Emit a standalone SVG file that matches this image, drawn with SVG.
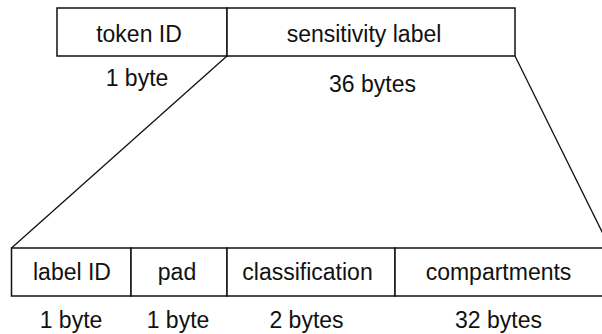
<svg xmlns="http://www.w3.org/2000/svg" width="602" height="334" viewBox="0 0 602 334">
<style>
.box{fill:#fff;stroke:#111;stroke-width:1.5}
.ln{fill:none;stroke:#111;stroke-width:1.3}
text{font-family:"Liberation Sans",Arial,sans-serif;font-size:23px;fill:#111;text-anchor:middle}
</style>
<rect width="602" height="334" fill="#fff"/>
<g id="connectors">
<line class="ln" x1="227" y1="56" x2="11.5" y2="248"/>
<line class="ln" x1="515" y1="56" x2="610" y2="248"/>
</g>
<g id="token-id">
<rect class="box" x="57" y="8" width="170" height="48"/>
<text x="139" y="41.5">token ID</text>
<text x="137" y="86">1 byte</text>
</g>
<g id="sensitivity-label">
<rect class="box" x="227" y="8" width="288" height="48"/>
<text x="364" y="41.5">sensitivity label</text>
<text x="372.5" y="92">36 bytes</text>
</g>
<g id="label-id">
<rect class="box" x="11.5" y="248" width="119.5" height="48"/>
<text x="72" y="280">label ID</text>
<text x="71" y="328">1 byte</text>
</g>
<g id="pad">
<rect class="box" x="131" y="248" width="96" height="48"/>
<text x="177" y="280">pad</text>
<text x="178" y="328">1 byte</text>
</g>
<g id="classification">
<rect class="box" x="227" y="248" width="168" height="48"/>
<text x="307.5" y="280">classification</text>
<text x="306.5" y="328">2 bytes</text>
</g>
<g id="compartments">
<rect class="box" x="395" y="248" width="215" height="48"/>
<text x="498.5" y="280">compartments</text>
<text x="498.5" y="328">32 bytes</text>
</g>
</svg>
